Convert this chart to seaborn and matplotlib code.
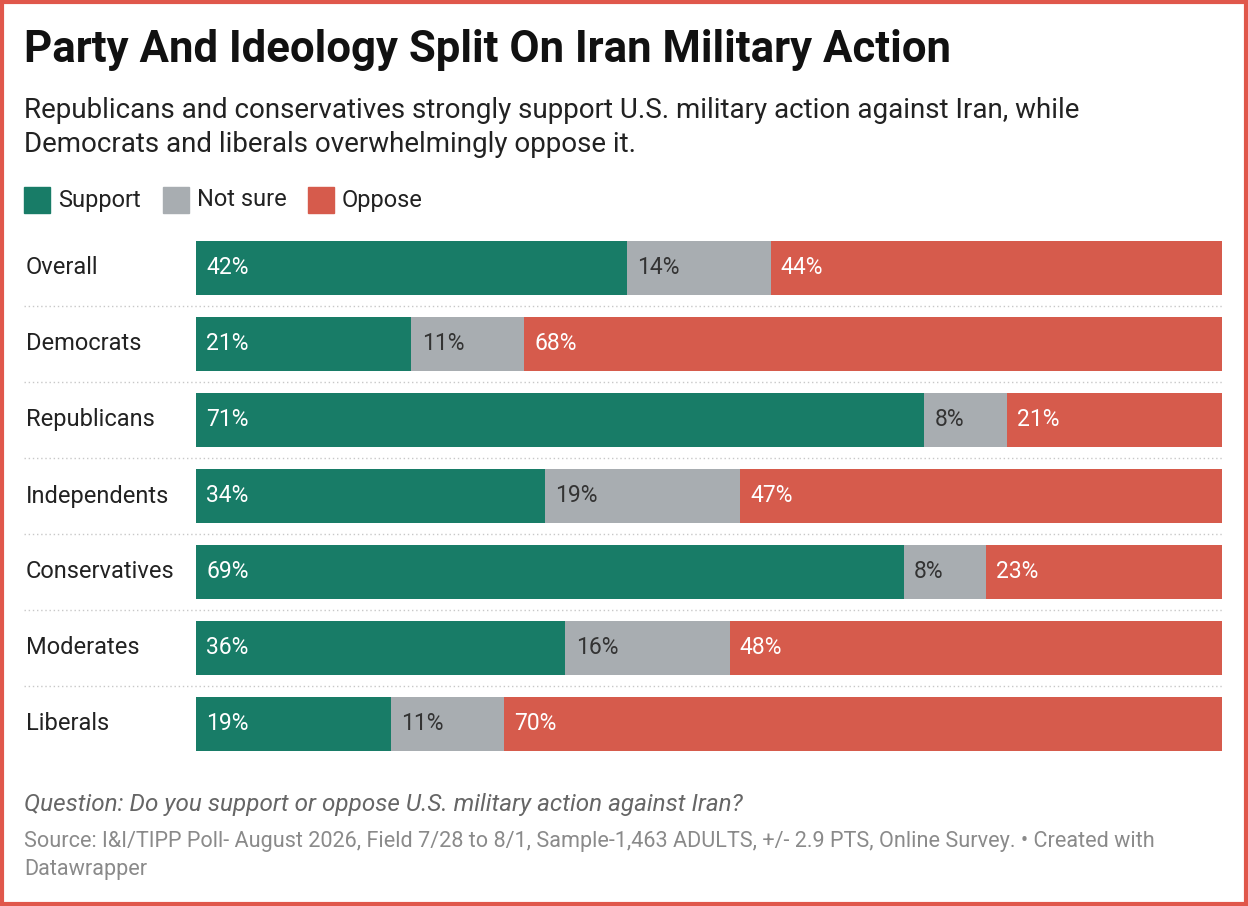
import matplotlib.pyplot as plt
import matplotlib.patches as mpatches
import matplotlib.lines as mlines
import numpy as np
import pandas as pd
import seaborn as sns

groups = ['Overall', 'Democrats', 'Republicans', 'Independents',
          'Conservatives', 'Moderates', 'Liberals']
support = [42, 21, 71, 34, 69, 36, 19]
not_sure = [14, 11, 8, 19, 8, 16, 11]
oppose = [44, 68, 21, 47, 23, 48, 70]

c_sup, c_ns, c_opp = '#187c67', '#a8adb1', '#d65b4c'

sns.set_theme(style="white")
plt.rcParams['font.family'] = ['Roboto', 'DejaVu Sans']

W, H = 1248, 906
fig = plt.figure(figsize=(W / 100, H / 100), dpi=100)
fig.patch.set_facecolor('white')

def fx(px):
    return px / W

def fy(py):
    return 1 - py / H

ax = fig.add_axes([fx(196), fy(762), fx(1222) - fx(196), (762 - 230) / H])

df = pd.DataFrame({'group': groups,
                   'sup': support,
                   'sup_ns': np.array(support) + np.array(not_sure),
                   'total': np.array(support) + np.array(not_sure) + np.array(oppose)})
bw = 54 / 76
for col, c in [('total', c_opp), ('sup_ns', c_ns), ('sup', c_sup)]:
    sns.barplot(data=df, x=col, y='group', color=c, width=bw, ax=ax,
                saturation=1, linewidth=0)
ax.set_xlim(0, 100)
ax.set_ylim(len(groups) - 0.5, -0.5)
ax.axis('off')

off = 1.0
fs = 16.5
for i in range(len(groups)):
    ax.text(off, i, f'{support[i]}%', va='center', ha='left', color='white', fontsize=fs)
    ax.text(support[i] + off, i, f'{not_sure[i]}%', va='center', ha='left', color='#333333', fontsize=fs)
    ax.text(support[i] + not_sure[i] + off, i, f'{oppose[i]}%', va='center', ha='left', color='white', fontsize=fs)
    fig.text(fx(26), fy(268 + 76 * i), groups[i], va='center', ha='left', fontsize=17, color='#222222')
    if i < len(groups) - 1:
        yy = fy(306 + 76 * i)
        fig.add_artist(mlines.Line2D([fx(24), fx(1222)], [yy, yy], color='#c8c8c8',
                                     linestyle=(0, (1, 2)), linewidth=1))

fig.text(fx(24), fy(50), 'Party And Ideology Split On Iran Military Action',
         fontsize=31.5, weight='bold', va='center', ha='left', color='#111111')
fig.text(fx(24), fy(110), 'Republicans and conservatives strongly support U.S. military action against Iran, while',
         fontsize=20, va='center', ha='left', color='#222222')
fig.text(fx(24), fy(145), 'Democrats and liberals overwhelmingly oppose it.',
         fontsize=20, va='center', ha='left', color='#222222')

# legend
lx = 24
for lab, col, w in [('Support', c_sup, 139), ('Not sure', c_ns, 145), ('Oppose', c_opp, 0)]:
    fig.add_artist(mpatches.Rectangle((fx(lx), fy(213)), fx(26), 26 / H, color=col))
    fig.text(fx(lx + 34), fy(200), lab, fontsize=17, va='center', ha='left', color='#222222')
    lx += w

fig.text(fx(24), fy(805), 'Question: Do you support or oppose U.S. military action against Iran?',
         fontsize=17.5, style='italic', va='center', ha='left', color='#666666')
fig.text(fx(24), fy(842), 'Source: I&I/TIPP Poll- August 2026, Field 7/28 to 8/1, Sample-1,463 ADULTS, +/- 2.9 PTS, Online Survey. • Created with',
         fontsize=15.6, va='center', ha='left', color='#8a8a8a')
fig.text(fx(24), fy(869), 'Datawrapper', fontsize=15.6, va='center', ha='left', color='#8a8a8a')

fig.add_artist(mpatches.Rectangle((0.0015, 0.002), 0.997, 0.996, fill=False,
                                  edgecolor='#e0574b', linewidth=3, transform=fig.transFigure))

fig.savefig('out.png', dpi=100)
